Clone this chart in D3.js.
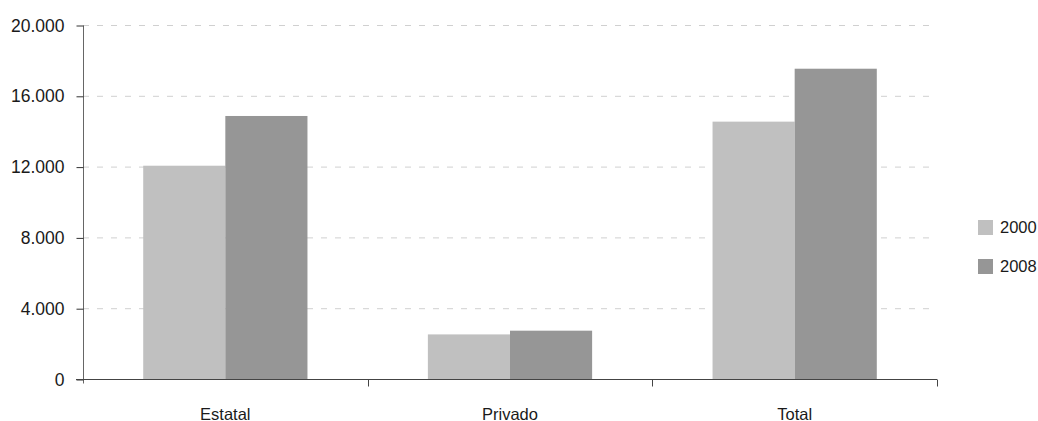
<!DOCTYPE html>
<html><head><meta charset="utf-8">
<script src="https://cdn.jsdelivr.net/npm/d3@7"></script>
<style>
html,body{margin:0;padding:0;background:#fff;}
text{font-family:"Liberation Sans",Arial,sans-serif;fill:#1a1a1a;}
</style></head>
<body><svg id="c" width="1038" height="421"></svg>
<script>
const categories = ["Estatal", "Privado", "Total"];
const seriesNames = ["2000", "2008"];
const values2000 = [12050, 2520, 14540];
const values2008 = [14860, 2730, 17530];
const yTicks = [0, 4000, 8000, 12000, 16000, 20000];
const yTickLabels = ["0", "4.000", "8.000", "12.000", "16.000", "20.000"];
const colors = ["#c0c0c0", "#969696"];

const svg = d3.select("#c");
const mLeft = 83, mRight = 937, mTop = 25, mBottom = 379;

const x = d3.scaleBand().domain(categories).range([mLeft, mRight]).paddingInner(0).paddingOuter(0);
const y = d3.scaleLinear().domain([0, 20000]).range([mBottom, mTop]);
const groupPad = 0.2115;
const inset = x.bandwidth() * groupPad;
const xs = d3.scaleBand().domain(seriesNames).range([inset, x.bandwidth() - inset]).padding(0);

// gridlines
svg.append("g").selectAll("line").data(yTicks.filter(d => d > 0)).join("line")
  .attr("x1", mLeft).attr("x2", mRight)
  .attr("y1", d => y(d) + 0.5).attr("y2", d => y(d) + 0.5)
  .attr("stroke", "#d0d0d0").attr("stroke-width", 1).attr("stroke-dasharray", "6,8");

// bars
const series = [values2000, values2008];
series.forEach((vals, si) => {
  svg.append("g").selectAll("rect").data(categories).join("rect")
    .attr("x", c => x(c) + xs(seriesNames[si]))
    .attr("width", xs.bandwidth())
    .attr("y", (c, i) => y(vals[i]))
    .attr("height", (c, i) => mBottom - y(vals[i]))
    .attr("fill", colors[si]);
});

// y axis
const yAxis = d3.axisLeft(y).tickValues(yTicks).tickSize(7).tickPadding(12)
  .tickFormat((d, i) => yTickLabels[i]);
const gy = svg.append("g").attr("transform", `translate(${mLeft+0.5},0.5)`).call(yAxis);
gy.select(".domain").attr("stroke", "#666").attr("d", `M0,${mTop}V${mBottom+4}`);
gy.selectAll(".tick line").attr("stroke", "#333");
gy.selectAll(".tick text").attr("font-size", 17.5)
  .attr("fill", "#1a1a1a").attr("font-family", null);

// x axis
const gx = svg.append("g").attr("transform", `translate(0,${mBottom+0.5})`);
gx.append("line").attr("x1", mLeft - 7).attr("x2", mRight).attr("y1", 0).attr("y2", 0).attr("stroke", "#444");
const boundaries = categories.map(c => x(c)).concat([mRight]).slice(1);
gx.selectAll("line.tk").data(boundaries).join("line").attr("class", "tk")
  .attr("x1", d => Math.round(d) + 0.5).attr("x2", d => Math.round(d) + 0.5)
  .attr("y1", 0).attr("y2", 7).attr("stroke", "#444");
gx.selectAll("text").data(categories).join("text")
  .attr("x", c => x(c) + x.bandwidth() / 2)
  .attr("y", 40)
  .attr("text-anchor", "middle")
  .attr("font-size", 16.5)
  .text(d => d);

// legend
const lg = svg.append("g");
seriesNames.forEach((s, i) => {
  const ly = 227.5 + i * 39;
  lg.append("rect").attr("x", 978).attr("y", ly - 7.5).attr("width", 15).attr("height", 15).attr("fill", colors[i]);
  lg.append("text").attr("x", 1000).attr("y", ly).attr("dy", "0.35em")
    .attr("font-size", 16.5).text(s);
});
</script></body></html>
